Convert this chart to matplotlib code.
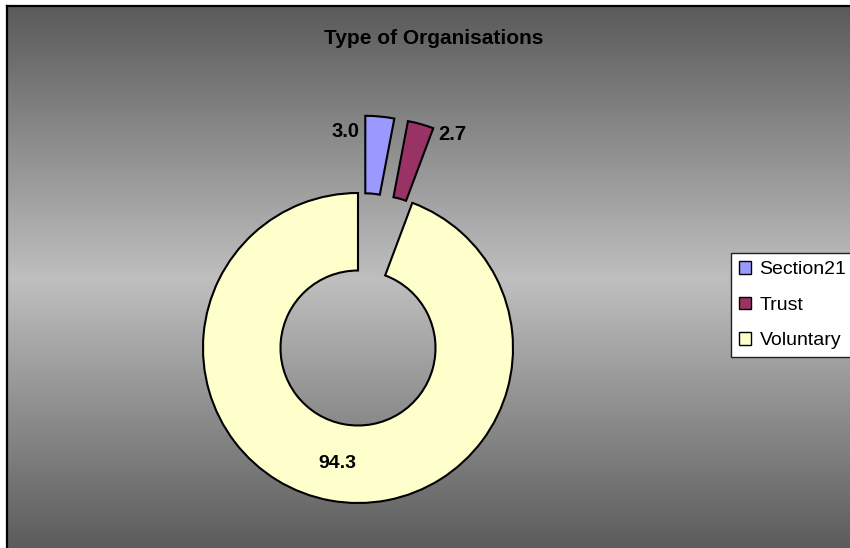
import numpy as np
import matplotlib
matplotlib.use("Agg")
import matplotlib.pyplot as plt
from matplotlib.colors import LinearSegmentedColormap

categories = ["Section21", "Trust", "Voluntary"]
values = [3.0, 2.7, 94.3]
labels_txt = ["3.0", "2.7", "94.3"]
colors = ["#9999FF", "#993366", "#FFFFCC"]
explode = [0.5, 0.5, 0.0]
title = "Type of Organisations"

plt.rcParams['font.family'] = ['Liberation Sans', 'DejaVu Sans']

W, H = 850, 548
fig = plt.figure(figsize=(W / 100, H / 100), dpi=100)
fig.patch.set_facecolor("white")

# background chart area with vertical gradient
bg = fig.add_axes([7 / W, -0.01, 1 - 7 / W + 0.01, 1 - 6 / H + 0.01])
cmap = LinearSegmentedColormap.from_list("g", ["#5a5a5a", "#bfbfbf", "#5a5a5a"])
grad = np.linspace(0, 1, 512).reshape(-1, 1)
bg.imshow(grad, cmap=cmap, aspect="auto", extent=[0, 1, 0, 1], origin="upper")
bg.set_xlim(0, 1)
bg.set_ylim(0, 1)
bg.set_xticks([])
bg.set_yticks([])
for s in ["right", "bottom"]:
    bg.spines[s].set_visible(False)
for s in ["left", "top"]:
    bg.spines[s].set_color("black")
    bg.spines[s].set_linewidth(1.6)

# pie axes: centre at (358, 348) px from top-left, radius 155 px
R = 155.0
cx, cy = 358.0, 348.0
ax_w = 2 * cx
ax_h = 2 * (H - cy)
ax = fig.add_axes([0, 0, ax_w / W, ax_h / H])
ax.patch.set_alpha(0)
wedges, _ = ax.pie(values, colors=colors, explode=explode, startangle=90,
                   counterclock=False, radius=1.0,
                   wedgeprops=dict(width=0.5, edgecolor="black", linewidth=1.5))
ax.set_xlim(-cx / R, cx / R)
ax.set_ylim(-(H - cy) / R, (H - cy) / R)
ax.set_aspect("auto")
ax.axis("off")

# data labels
fs_lab = 14.5
for i, w in enumerate(wedges):
    ox, oy = w.center
    t1, t2 = np.deg2rad(w.theta1), np.deg2rad(w.theta2)
    if i == 0:
        x = ox + np.cos(t2) - 0.04
        y = oy + np.sin(t2) - 0.1
        ax.text(x, y, labels_txt[i], ha="right", va="center",
                fontsize=fs_lab, fontweight="bold")
    elif i == 1:
        x = ox + np.cos(t1) + 0.03
        y = oy + np.sin(t1) - 0.04
        ax.text(x, y, labels_txt[i], ha="left", va="center",
                fontsize=fs_lab, fontweight="bold")
    else:
        tm = (t1 + t2) / 2
        r = 0.76
        ax.text(ox + r * np.cos(tm), oy + r * np.sin(tm), labels_txt[i],
                ha="center", va="center", fontsize=fs_lab - 0.5, fontweight="bold")

fig.text(434 / W, 1 - 38 / H, title, ha="center", va="center",
         fontsize=15, fontweight="bold")

leg = fig.legend(wedges, categories, loc="upper left",
                 bbox_to_anchor=(731 / W, 1 - 253 / H), borderaxespad=0,
                 fontsize=14, frameon=True, fancybox=False, shadow=False,
                 handlelength=0.6, handleheight=0.6, handletextpad=0.45,
                 labelspacing=0.95, borderpad=0.42)
leg.get_frame().set_edgecolor("#222222")
leg.get_frame().set_linewidth(1.0)
leg.get_frame().set_alpha(1)
for h in leg.legend_handles:
    h.set_linewidth(1.0)

fig.savefig("out.png", dpi=100)
